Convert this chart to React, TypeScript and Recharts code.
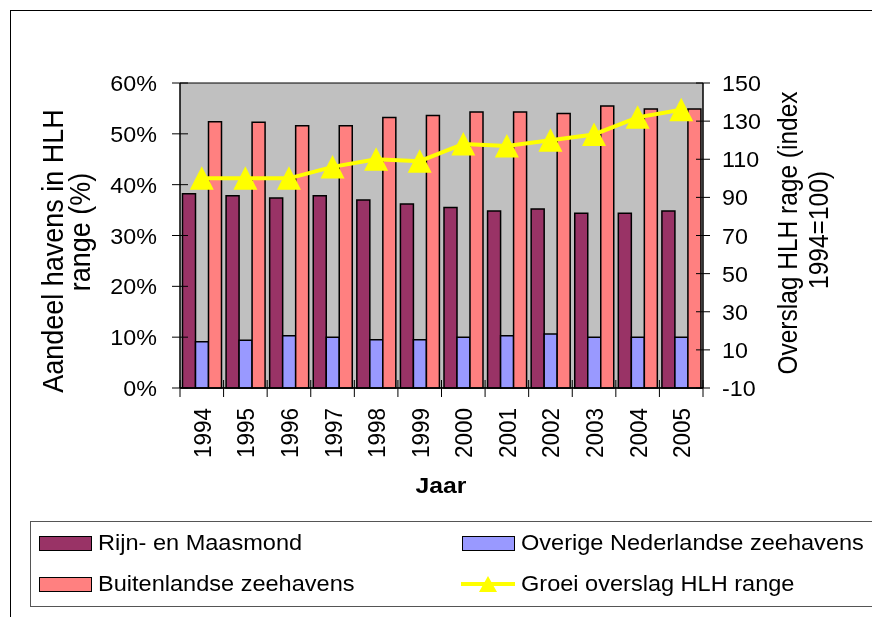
import React from 'react'
import { Bar, CartesianGrid, ComposedChart, Line, XAxis, YAxis } from 'recharts'

const years = ['1994', '1995', '1996', '1997', '1998', '1999', '2000', '2001', '2002', '2003', '2004', '2005']
const rijnMaas = [38.2, 37.8, 37.4, 37.8, 37.0, 36.2, 35.5, 34.8, 35.2, 34.4, 34.4, 34.8]
const overigeNl = [9.1, 9.4, 10.3, 10.0, 9.5, 9.5, 10.0, 10.3, 10.6, 10.0, 10.0, 10.0]
const buitenland = [52.4, 52.3, 51.6, 51.6, 53.2, 53.6, 54.3, 54.3, 54.0, 55.5, 54.9, 54.9]
const groei = [100, 100, 100, 106, 110, 109, 118, 117, 120, 123, 132, 136]

const leftTicks = [0, 10, 20, 30, 40, 50, 60]
const rightTicks = [-10, 10, 30, 50, 70, 90, 110, 130, 150]

const data = years.map((year, i) => ({
  year,
  rijn: rijnMaas[i],
  overige: overigeNl[i],
  buiten: buitenland[i],
  groei: groei[i],
}))

const FONT = '"Liberation Sans", Arial, sans-serif'
const STRETCH = 1.06
const MAROON = '#993366'
const BLUE = '#9999FF'
const PINK = '#FF8080'
const YELLOW = '#FFFF00'

function LeftTick({ x, y, payload }: any) {
  return (
    <g>
      <line x1={x - 8} x2={x + 8} y1={y} y2={y} stroke="#000" />
      <text
        transform={`translate(${x - 23},${y + 8}) scale(${STRETCH},1)`}
        textAnchor="end"
        fontSize={22}
        fontFamily={FONT}
        fill="#000"
      >
        {payload.value}%
      </text>
    </g>
  )
}

function RightTick({ x, y, payload }: any) {
  return (
    <g>
      <line x1={x - 7} x2={x + 7} y1={y} y2={y} stroke="#000" />
      <text
        transform={`translate(${x + 19},${y + 8}) scale(${STRETCH},1)`}
        textAnchor="start"
        fontSize={22}
        fontFamily={FONT}
        fill="#000"
      >
        {payload.value}
      </text>
    </g>
  )
}

function YearTick({ x, y, payload, index }: any) {
  const half = payload.offset || 21.8
  return (
    <g>
      <line x1={x - half} x2={x - half} y1={y - 8} y2={y + 9} stroke="#000" />
      {index === years.length - 1 && (
        <line x1={x + half} x2={x + half} y1={y - 8} y2={y + 9} stroke="#000" />
      )}
      <text
        transform={`translate(${x + 9},${y + 20}) rotate(-90) scale(1,${STRETCH})`}
        textAnchor="end"
        fontSize={22.5}
        fontFamily={FONT}
        fill="#000"
      >
        {payload.value}
      </text>
    </g>
  )
}

function Triangle({ cx, cy, index }: any) {
  return (
    <polygon
      key={index}
      points={`${cx},${cy - 12} ${cx - 12},${cy + 11.5} ${cx + 12},${cy + 11.5}`}
      fill={YELLOW}
    />
  )
}

function Swatch({ color }: { color: string }) {
  return (
    <div
      style={{
        width: 51,
        height: 13,
        background: color,
        border: '1.5px solid #000',
      }}
    />
  )
}

function LegendItem({ left, top, label, children }: any) {
  return (
    <div style={{ position: 'absolute', left, top, display: 'flex', alignItems: 'center' }}>
      <div style={{ width: 54, display: 'flex', justifyContent: 'center' }}>{children}</div>
      <span
        style={{
          marginLeft: 6,
          fontFamily: FONT,
          fontSize: 22,
          lineHeight: '24px',
          whiteSpace: 'nowrap',
          display: 'inline-block',
          transform: 'scaleX(1.07)',
          transformOrigin: 'left center',
        }}
      >
        {label}
      </span>
    </div>
  )
}

export default function App() {
  return (
    <div style={{ position: 'fixed', left: 8, top: 8, width: 864, height: 609, overflow: 'hidden' }}>
      <div
        style={{
          position: 'absolute',
          left: 2,
          top: 2,
          width: 1000,
          height: 800,
          borderLeft: '1.5px solid #000',
          borderTop: '1.5px solid #000',
        }}
      />
      <div style={{ position: 'absolute', left: 0, top: 0 }}>
        <ComposedChart
          width={864}
          height={520}
          data={data}
          margin={{ top: 75, right: 0, bottom: 80, left: 0 }}
          barCategoryGap={2.5}
          barGap={0}
        >
          <CartesianGrid vertical={false} stroke="#000" fill="#C0C0C0" fillOpacity={1} />
          <XAxis
            dataKey="year"
            interval={0}
            height={60}
            axisLine={{ stroke: '#000', strokeWidth: 1.5 }}
            tickLine={false}
            tickSize={0}
            tickMargin={0}
            tick={<YearTick />}
          />
          <YAxis
            yAxisId="left"
            orientation="left"
            width={172}
            domain={[0, 60]}
            ticks={leftTicks}
            interval={0}
            axisLine={{ stroke: '#000', strokeWidth: 1.5 }}
            tickLine={false}
            tickSize={0}
            tickMargin={0}
            tick={<LeftTick />}
          />
          <YAxis
            yAxisId="right"
            orientation="right"
            width={169}
            domain={[-10, 150]}
            ticks={rightTicks}
            interval={0}
            axisLine={{ stroke: '#000', strokeWidth: 1.5 }}
            tickLine={false}
            tickSize={0}
            tickMargin={0}
            tick={<RightTick />}
          />
          <Bar yAxisId="left" dataKey="rijn" fill={MAROON} stroke="#000" strokeWidth={1.5} isAnimationActive={false} />
          <Bar yAxisId="left" dataKey="overige" fill={BLUE} stroke="#000" strokeWidth={1.5} isAnimationActive={false} />
          <Bar yAxisId="left" dataKey="buiten" fill={PINK} stroke="#000" strokeWidth={1.5} isAnimationActive={false} />
          <Line
            yAxisId="right"
            dataKey="groei"
            stroke={YELLOW}
            strokeWidth={4}
            dot={<Triangle />}
            activeDot={false}
            isAnimationActive={false}
          />
        </ComposedChart>
      </div>

      <svg
        width={864}
        height={609}
        style={{ position: 'absolute', left: 0, top: 0, pointerEvents: 'none' }}
      >
        <g fontFamily={FONT} fill="#000">
          <text transform="translate(55,243) rotate(-90) scale(1,1.1)" textAnchor="middle" fontSize={27}>
            Aandeel havens in HLH
          </text>
          <text transform="translate(82,224) rotate(-90) scale(1,1.1)" textAnchor="middle" fontSize={27}>
            range (%)
          </text>
          <text transform="translate(789,225) rotate(-90) scale(1,1.1)" textAnchor="middle" fontSize={24.5}>
            Overslag HLH rage (index
          </text>
          <text transform="translate(820,222) rotate(-90) scale(1,1.1)" textAnchor="middle" fontSize={24.5}>
            1994=100)
          </text>
          <text
            transform="translate(433,485) scale(1.1,1)"
            textAnchor="middle"
            fontSize={22.5}
            fontWeight="bold"
          >
            Jaar
          </text>
        </g>
      </svg>

      <div
        style={{
          position: 'absolute',
          left: 22,
          top: 513,
          width: 900,
          height: 84,
          border: '1.5px solid #555',
        }}
      >
        <LegendItem left={7} top={9} label="Rijn- en Maasmond">
          <Swatch color={MAROON} />
        </LegendItem>
        <LegendItem left={430} top={9} label="Overige Nederlandse zeehavens">
          <Swatch color={BLUE} />
        </LegendItem>
        <LegendItem left={7} top={50} label="Buitenlandse zeehavens">
          <Swatch color={PINK} />
        </LegendItem>
        <LegendItem left={430} top={50} label="Groei overslag HLH range">
          <svg width={54} height={20}>
            <line x1={0} x2={54} y1={10} y2={10} stroke={YELLOW} strokeWidth={4} />
            <polygon points="27,2 18,18 36,18" fill={YELLOW} />
          </svg>
        </LegendItem>
      </div>
    </div>
  )
}
